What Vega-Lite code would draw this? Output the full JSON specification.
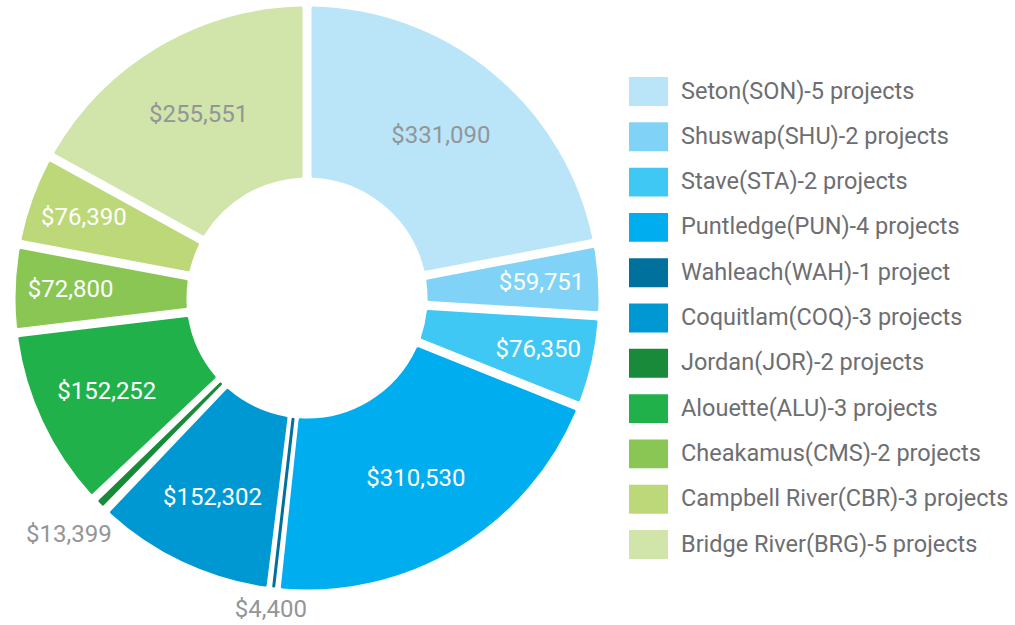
{
  "$schema": "https://vega.github.io/schema/vega-lite/v6.json",
  "width": 614,
  "height": 596,
  "padding": 0,
  "autosize": {"type": "pad"},
  "background": "white",
  "config": {"view": {"stroke": null}},
  "data": {
    "values": [
      {"idx": 1, "region": "Seton(SON)-5 projects", "value": 331090},
      {"idx": 2, "region": "Shuswap(SHU)-2 projects", "value": 59751},
      {"idx": 3, "region": "Stave(STA)-2 projects", "value": 76350},
      {"idx": 4, "region": "Puntledge(PUN)-4 projects", "value": 310530},
      {"idx": 5, "region": "Wahleach(WAH)-1 project", "value": 4400},
      {"idx": 6, "region": "Coquitlam(COQ)-3 projects", "value": 152302},
      {"idx": 7, "region": "Jordan(JOR)-2 projects", "value": 13399},
      {"idx": 8, "region": "Alouette(ALU)-3 projects", "value": 152252},
      {"idx": 9, "region": "Cheakamus(CMS)-2 projects", "value": 72800},
      {"idx": 10, "region": "Campbell River(CBR)-3 projects", "value": 76390},
      {"idx": 11, "region": "Bridge River(BRG)-5 projects", "value": 255551}
    ]
  },
  "encoding": {
    "theta": {"field": "value", "type": "quantitative", "stack": true},
    "order": {"field": "idx", "type": "quantitative"}
  },
  "layer": [
    {
      "mark": {"type": "arc", "innerRadius": 122, "outerRadius": 290, "padAngle": 0.038, "strokeWidth": 3, "strokeJoin": "round"},
      "encoding": {
        "color": {
          "field": "region", "type": "nominal",
          "scale": {
            "domain": ["Seton(SON)-5 projects", "Shuswap(SHU)-2 projects", "Stave(STA)-2 projects", "Puntledge(PUN)-4 projects", "Wahleach(WAH)-1 project", "Coquitlam(COQ)-3 projects", "Jordan(JOR)-2 projects", "Alouette(ALU)-3 projects", "Cheakamus(CMS)-2 projects", "Campbell River(CBR)-3 projects", "Bridge River(BRG)-5 projects"],
            "range": ["#BAE5F9", "#80D3F7", "#3FC8F3", "#00ADEE", "#00719C", "#0098D2", "#198A3A", "#21B14B", "#89C653", "#BCD878", "#D1E4AA"]
          },
          "legend": {
            "orient": "none",
            "legendX": 629,
            "legendY": 72,
            "title": null,
            "padding": 0,
            "symbolType": "M-1,-0.74H1V0.74H-1Z",
            "symbolSize": 1521,
            "symbolStrokeWidth": 0,
            "symbolOpacity": 1,
            "labelFont": "Roboto",
            "labelFontSize": 23.5,
            "labelColor": "#6D6E71",
            "labelOffset": 13,
            "labelLimit": 400,
            "rowPadding": 11.3
          }
        },
        "stroke": {
          "field": "region", "type": "nominal",
          "scale": {
            "domain": ["Seton(SON)-5 projects", "Shuswap(SHU)-2 projects", "Stave(STA)-2 projects", "Puntledge(PUN)-4 projects", "Wahleach(WAH)-1 project", "Coquitlam(COQ)-3 projects", "Jordan(JOR)-2 projects", "Alouette(ALU)-3 projects", "Cheakamus(CMS)-2 projects", "Campbell River(CBR)-3 projects", "Bridge River(BRG)-5 projects"],
            "range": ["#BAE5F9", "#80D3F7", "#3FC8F3", "#00ADEE", "#00719C", "#0098D2", "#198A3A", "#21B14B", "#89C653", "#BCD878", "#D1E4AA"]
          },
          "legend": null
        }
      }
    },
    {
      "mark": {"type": "text", "font": "Roboto", "fontSize": 24, "align": "center", "baseline": "middle"},
      "encoding": {
        "detail": {"field": "region", "type": "nominal"},
        "radius": {"field": "value", "type": "quantitative", "scale": {"type": "linear", "zero": false, "clamp": true, "domain": [4400, 13399, 59751, 76390, 152277, 255551, 331090], "range": [314.5, 336, 235, 237, 221, 213, 210]}},
        "text": {"field": "value", "type": "quantitative", "format": "$,.0f"},
        "color": {"condition": {"test": "datum.idx == 1 || datum.idx == 11 || datum.idx == 5 || datum.idx == 7", "value": "#939598"}, "value": "white"}
      }
    }
  ]
}
